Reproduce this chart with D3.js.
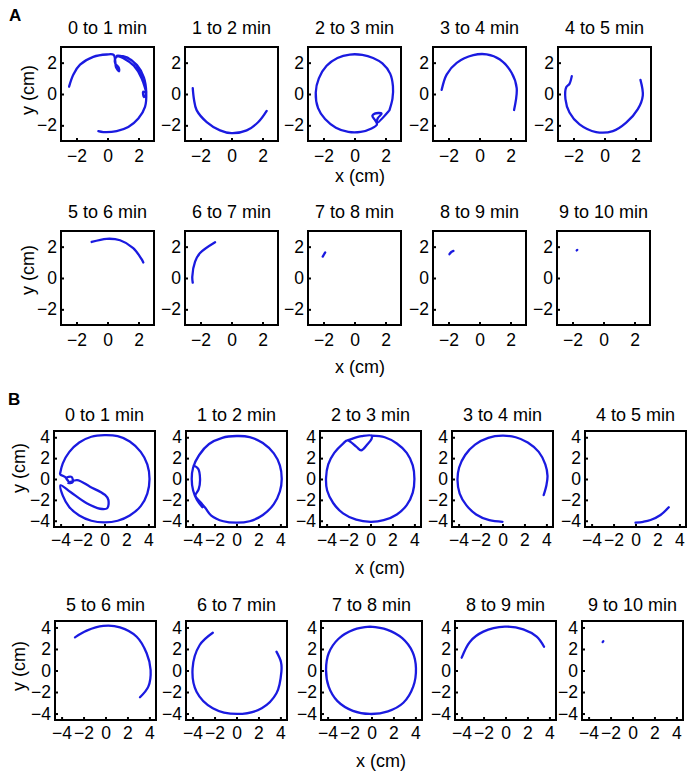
<!DOCTYPE html>
<html>
<head>
<meta charset="utf-8">
<script src="https://cdn.jsdelivr.net/npm/d3@7"></script>
<style>
  body { margin: 0; background: #fff; }
  svg { display: block; font-family: Arial, "Liberation Sans", sans-serif; }
</style>
</head>
<body>
<svg id="chart" width="699" height="779"></svg>
<script>
// titles, ticks and axis ranges
const titles = ["0 to 1 min", "1 to 2 min", "2 to 3 min", "3 to 4 min", "4 to 5 min",
                "5 to 6 min", "6 to 7 min", "7 to 8 min", "8 to 9 min", "9 to 10 min"];
const ticksA = [-2, 0, 2];
const ticksB = [-4, -2, 0, 2, 4];
const rangeA = [-3, 3];
const rangeB = [-4.6, 4.6];

// trajectories (x, y in cm), one per minute, experiment A
const trackA = [
  [[-2.48,0.47],[-2.2,1.25],[-1.77,1.87],[-0.92,2.37],[-0.05,2.52],[0.4,2.5],[0.5,2.1],[0.55,1.7],
   [0.75,1.45],[0.72,1.7],[0.5,1.95],[0.55,2.35],[1.0,2.42],[1.6,2.12],[2.1,1.5],[2.35,0.8],
   [2.5,0.05],[2.35,-0.2],[2.3,0.15],[2.45,0.1],[2.2,1.0],[1.7,1.8],[1.0,2.3],[0.6,2.45],
   [1.2,2.35],[1.9,1.85],[2.35,1.05],[2.5,0.1],[2.42,-0.82],[1.99,-1.57],[1.34,-2.11],
   [0.59,-2.37],[-0.27,-2.43],[-0.59,-2.37]],
  [[-2.5,0.37],[-2.42,-0.35],[-2.25,-1.03],[-1.6,-1.79],[-0.74,-2.32],[0,-2.5],[0.98,-2.32],
   [1.73,-1.79],[2.27,-1.08]],
  [[2.25,-1.05],[2.45,-0.3],[2.48,0.5],[2.3,1.3],[1.8,1.95],[1.2,2.3],[0.5,2.5],[-0.3,2.52],
   [-1.1,2.3],[-1.8,1.8],[-2.3,1.0],[-2.5,0.1],[-2.35,-0.9],[-1.9,-1.6],[-1.2,-2.15],
   [-0.4,-2.42],[0.4,-2.42],[1.1,-2.2],[1.45,-1.95],[1.35,-1.7],[1.15,-1.4],[1.3,-1.25],
   [1.75,-1.25],[1.5,-1.55],[1.45,-1.85],[2.2,-1.1]],
  [[-2.44,0.27],[-2.12,1.24],[-1.47,1.99],[-0.4,2.48],[0.46,2.53],[1.32,2.2],[2.08,1.34],
   [2.4,0.37],[2.23,-1.02]],
  [[-2.11,1.14],[-2.26,0.65],[-2.47,0.43],[-2.52,-0.32],[-2.26,-1.18],[-1.61,-1.94],
   [-0.54,-2.43],[0.54,-2.37],[1.4,-1.83],[2.15,-0.97],[2.47,-0.1],[2.32,0.9]],
  [[-1.02,2.3],[-0.05,2.5],[0.81,2.41],[1.66,1.91],[2.2,1.2],[2.31,0.99]],
  [[-2.5,-0.3],[-2.53,0.08],[-2.35,1.05],[-2.03,1.59],[-1.06,2.28]],
  [[-2.05,1.37],[-1.97,1.5],[-1.89,1.63]],
  [[-1.94,1.52],[-1.82,1.66],[-1.68,1.73]],
  [[-1.73,1.76],[-1.69,1.79]]
];

// trajectories (x, y in cm), one per minute, experiment B
const trackB = [
  [[-4.0,0.4],[-3.6,0.2],[-3.3,-0.2],[-3.5,0.1],[-3.0,0.2],[-2.9,-0.3],[-3.3,-0.4],[-2.5,-0.1],
   [-1.32,-0.74],[0.05,-1.53],[0.35,-2.0],[0.25,-2.8],[-0.4,-2.85],[-1.62,-2.33],[-3.1,-1.25],
   [-4.0,-0.6],[-3.8,-1.6],[-3.2,-2.7],[-2.3,-3.5],[-1.2,-4.0],[0,-4.15],[1.2,-4.0],[2.3,-3.5],
   [3.3,-2.6],[3.9,-1.4],[4.1,0],[3.9,1.4],[3.3,2.6],[2.3,3.6],[1.2,4.1],[0,4.2],[-1.2,4.05],
   [-2.3,3.5],[-3.2,2.6],[-3.8,1.5],[-4.05,0.5]],
  [[-3.9,1.3],[-3.5,1.0],[-3.32,0],[-3.45,-1.0],[-3.75,-1.6],[-3.3,-2.2],[-2.85,-2.75],
   [-2.3,-3.5],[-1.2,-4.05],[0,-4.19],[1.2,-4.05],[2.4,-3.45],[3.4,-2.4],[3.95,-1.2],
   [4.12,0],[3.95,1.3],[3.4,2.45],[2.4,3.45],[1.2,4.02],[0,4.12],[-1.3,3.95],[-2.5,3.35],
   [-3.4,2.3],[-3.95,1.1],[-4.08,0],[-3.95,-1.1],[-3.6,-2.0],[-3.1,-2.7]],
  [[0.1,4.15],[1.3,4.0],[2.4,3.4],[3.3,2.5],[3.85,1.3],[4.0,0],[3.85,-1.3],[3.3,-2.5],
   [2.4,-3.4],[1.2,-3.95],[0,-4.1],[-1.3,-3.9],[-2.5,-3.3],[-3.4,-2.3],[-3.95,-1.1],
   [-4.05,0.1],[-3.85,1.4],[-3.3,2.5],[-2.5,3.4],[-2.1,3.7],[-1.3,3.1],[-0.85,2.75],
   [-0.3,3.3],[0.1,3.85],[0.1,4.15],[-0.8,4.1],[-1.7,3.85],[-2.1,3.7]],
  [[3.75,-1.55],[4.0,-0.6],[4.1,0.3],[3.9,1.4],[3.3,2.6],[2.3,3.5],[1.2,4.0],[0,4.15],
   [-1.3,3.95],[-2.5,3.3],[-3.4,2.3],[-3.95,1.1],[-4.1,-0.1],[-3.9,-1.4],[-3.3,-2.5],
   [-2.4,-3.4],[-1.2,-3.95],[0,-4.1]],
  [[0,-4.19],[0.7,-4.1],[1.37,-3.93],[2.28,-3.45],[3.03,-2.71]],
  [[-2.78,3.08],[-1.71,3.7],[-0.2,4.14],[1.32,4.01],[2.84,3.14],[3.75,1.6],[4.11,0.05],
   [3.9,-1.5],[3.14,-2.49]],
  [[3.64,1.75],[4.05,0.8],[4.09,-0.1],[3.64,-2.12],[2.3,-3.51],[0.07,-4.04],[-2.16,-3.51],
   [-3.64,-1.97],[-4.0,0.2],[-3.35,2.37],[-2.16,3.51]],
  [[-0.14,4.07],[1.4,3.8],[2.8,3.0],[3.75,1.7],[4.05,0.2],[3.8,-1.5],[2.9,-3.0],[1.5,-3.8],
   [-0.14,-4.04],[-1.7,-3.75],[-3.1,-2.85],[-3.9,-1.5],[-4.14,0.05],[-3.9,1.6],[-3.0,2.95],
   [-1.6,3.8],[-0.14,4.07]],
  [[-3.99,1.19],[-3.23,2.68],[-2.02,3.61],[-0.05,4.07],[1.62,3.83],[2.84,3.14],[3.51,2.21]],
  [[-2.72,2.64],[-2.66,2.72]]
];

const svg = d3.select("#chart");
const lineColor = "#1a1ae0";

// rows of panels: lefts, top, size, axis settings
const rows = [
  { lefts: [61, 185, 308, 433, 558], top: 47, w: 93, h: 94, start: 0, tracks: trackA, dom: rangeA, ticks: ticksA,
    titleY: 34, pad: 9, xlab: [360, 182], ylab: [34, 90] },
  { lefts: [61, 185, 308, 433, 557], top: 231, w: 93, h: 94, start: 5, tracks: trackA, dom: rangeA, ticks: ticksA,
    titleY: 218, pad: 9, xlab: [360, 373], ylab: [34, 270] },
  { lefts: [54, 186, 320, 452, 585], top: 431, w: 101, h: 96, start: 0, tracks: trackB, dom: rangeB, ticks: ticksB,
    titleY: 421, pad: 7, xlab: [380, 574], ylab: [25, 468] },
  { lefts: [55, 186, 321, 455, 582], top: 621, w: 101, h: 99, start: 5, tracks: trackB, dom: rangeB, ticks: ticksB,
    titleY: 611, pad: 7, xlab: [381, 767], ylab: [25, 666] }
];

rows.forEach(row => {
  row.lefts.forEach((left, j) => {
    const idx = row.start + j;
    const x = d3.scaleLinear().domain(row.dom).range([left, left + row.w]);
    const y = d3.scaleLinear().domain(row.dom).range([row.top + row.h, row.top]);
    const g = svg.append("g");

    g.append("text")
      .attr("x", left + row.w / 2)
      .attr("y", row.titleY)
      .attr("text-anchor", "middle")
      .attr("font-size", 18)
      .text(titles[idx]);

    const line = d3.line()
      .x(d => x(d[0]))
      .y(d => y(d[1]))
      .curve(d3.curveCatmullRom);

    g.append("path")
      .datum(row.tracks[idx])
      .attr("d", line)
      .attr("fill", "none")
      .attr("stroke", lineColor)
      .attr("stroke-width", 2.3)
      .attr("stroke-linecap", "round")
      .attr("stroke-linejoin", "round");

    const xAxis = g.append("g")
      .attr("transform", `translate(0,${row.top + row.h})`)
      .call(d3.axisBottom(x).tickValues(row.ticks).tickSize(-3).tickPadding(row.pad).tickFormat(d3.format("d")));
    const yAxis = g.append("g")
      .attr("transform", `translate(${left},0)`)
      .call(d3.axisLeft(y).tickValues(row.ticks).tickSize(-3).tickPadding(4).tickFormat(d3.format("d")));

    [xAxis, yAxis].forEach(a => {
      a.select(".domain").remove();
      a.selectAll(".tick line").attr("stroke", "#000").attr("stroke-width", 2);
      a.selectAll(".tick text")
        .attr("font-size", 17.5)
        .attr("font-family", "Arial, 'Liberation Sans', sans-serif")
        .attr("fill", "#000");
    });

    g.append("rect")
      .attr("x", left)
      .attr("y", row.top)
      .attr("width", row.w)
      .attr("height", row.h)
      .attr("fill", "none")
      .attr("stroke", "#000")
      .attr("stroke-width", 2);
  });

  svg.append("text")
    .attr("x", row.xlab[0])
    .attr("y", row.xlab[1])
    .attr("text-anchor", "middle")
    .attr("font-size", 18)
    .text("x (cm)");

  svg.append("text")
    .attr("transform", `translate(${row.ylab[0]},${row.ylab[1]}) rotate(-90)`)
    .attr("text-anchor", "middle")
    .attr("font-size", 18)
    .text("y (cm)");
});

svg.append("text").attr("x", 9).attr("y", 21)
  .attr("font-size", 17).attr("font-weight", "bold").text("A");
svg.append("text").attr("x", 8).attr("y", 405)
  .attr("font-size", 17).attr("font-weight", "bold").text("B");
</script>
</body>
</html>
